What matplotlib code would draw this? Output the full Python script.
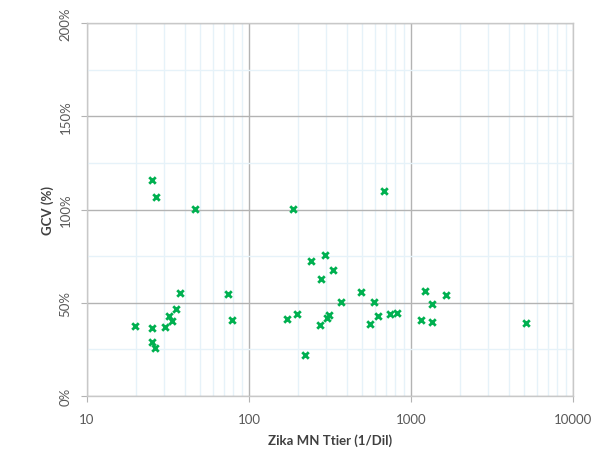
import matplotlib.pyplot as plt
from matplotlib.ticker import FixedLocator, FuncFormatter, NullFormatter, LogLocator
import numpy as np

# titre (1/Dil) et GCV (%)
titer = [19.9, 25.2, 25.1, 26.3, 30.2, 32.2, 33.5, 35.3, 37.5, 74.5, 78.9,
         171, 197, 25.1, 26.8, 46.4, 188, 681, 242, 295, 279, 330, 223,
         370, 491, 589, 274, 302, 310, 556, 625, 742, 820, 1158, 1225,
         1348, 1353, 1644, 5105]
gcv = [37.4, 36.5, 29.1, 25.9, 36.8, 43.1, 40.2, 46.6, 55.2, 54.7, 40.9,
       41.3, 44.0, 115.7, 106.7, 100.4, 100.3, 109.8, 72.2, 75.4, 62.9,
       67.6, 22.1, 50.6, 55.8, 50.6, 38.1, 41.7, 43.4, 38.8, 43.1, 43.8,
       44.5, 40.9, 56.3, 49.2, 39.5, 54.0, 39.1]

plt.rcParams['font.family'] = ['Lato', 'DejaVu Sans']

fig = plt.figure(figsize=(5.99, 4.52), dpi=100)
ax = fig.add_axes([87 / 599, 1 - 397 / 452, 486 / 599, 373 / 452])

ax.scatter(titer, gcv, marker='x', s=22, linewidths=2, color='#00b050', zorder=3)

ax.set_xscale('log')
ax.set_xlim(10, 10000)
ax.set_ylim(0, 200)

ax.yaxis.set_major_locator(FixedLocator([0, 50, 100, 150, 200]))
ax.yaxis.set_minor_locator(FixedLocator([25, 75, 125, 175]))
ax.yaxis.set_major_formatter(FuncFormatter(lambda v, p: '%d%%' % v))
ax.xaxis.set_major_locator(FixedLocator([10, 100, 1000, 10000]))
ax.xaxis.set_minor_locator(LogLocator(base=10, subs=np.arange(2, 10)))
ax.xaxis.set_major_formatter(FuncFormatter(lambda v, p: '%d' % v))
ax.xaxis.set_minor_formatter(NullFormatter())

ax.grid(True, which='major', color='#b3b3b3', linewidth=1.0, zorder=1)
ax.grid(True, which='minor', color='#e6f2f9', linewidth=1.0, zorder=0)
ax.set_axisbelow(True)

for s in ax.spines.values():
    s.set_color('#c8c8c8')
    s.set_linewidth(1.0)

ax.tick_params(which='major', length=4, color='#b3b3b3', labelsize=9.5,
               labelcolor='#595959')
ax.tick_params(which='minor', length=0)
ax.tick_params(axis='x', pad=8)
ax.tick_params(axis='y', pad=7)
for lbl in ax.get_yticklabels():
    lbl.set_rotation(90)
    lbl.set_va('center')

ax.set_xlabel('Zika MN Ttier (1/Dil)', fontsize=9.5, fontweight='bold',
              color='#404040', labelpad=6)
ax.set_ylabel('GCV (%)', fontsize=9.5, fontweight='bold', color='#404040',
              labelpad=4)

fig.savefig('out.png', dpi=100)
